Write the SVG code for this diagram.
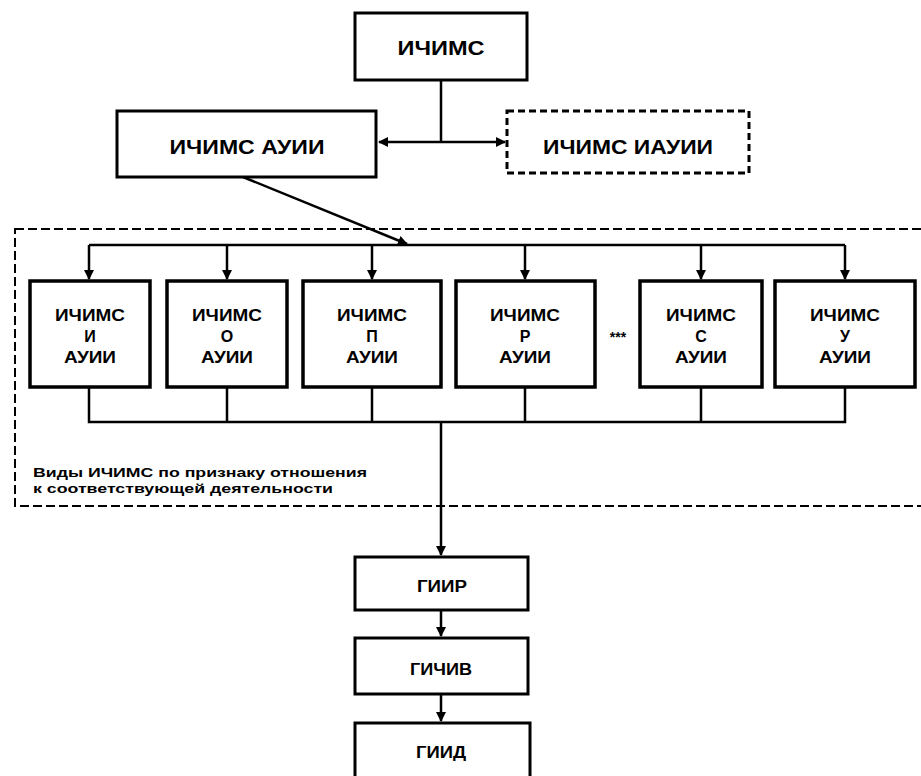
<svg xmlns="http://www.w3.org/2000/svg" width="921" height="776" viewBox="0 0 921 776">
<style>
.box{fill:#fff;stroke:#000;stroke-width:3}
.sbox{fill:#fff;stroke:#000;stroke-width:3.5}
.t{font-family:"Liberation Sans",Arial,sans-serif;font-weight:bold;fill:#000;text-anchor:middle}
.big{font-size:20px}
.mid{font-size:16px}
.lbl{font-family:"Liberation Sans",Arial,sans-serif;font-weight:bold;font-size:13px;fill:#000}
.ln{fill:none;stroke:#000;stroke-width:2.5}
</style>
<defs>
<marker id="ah" viewBox="0 0 10 10" refX="9" refY="5" markerWidth="4" markerHeight="4" orient="auto" markerUnits="strokeWidth">
<path d="M0,0 L10,5 L0,10 z" fill="#000"/>
</marker>
</defs>
<rect x="15" y="229" width="915" height="277" fill="none" stroke="#000" stroke-width="2" stroke-dasharray="9 4"/>
<g id="connectors">
<path class="ln" d="M441,80 V142"/>
<path class="ln" d="M441,142 H379" marker-end="url(#ah)"/>
<path class="ln" d="M441,142 H505" marker-end="url(#ah)"/>
<path class="ln" d="M243,177 L407,244" marker-end="url(#ah)"/>
<path class="ln" d="M89,245 H845"/>
<path class="ln" d="M89,245 V279" marker-end="url(#ah)"/>
<path class="ln" d="M227,245 V279" marker-end="url(#ah)"/>
<path class="ln" d="M372,245 V279" marker-end="url(#ah)"/>
<path class="ln" d="M525,245 V279" marker-end="url(#ah)"/>
<path class="ln" d="M701,245 V279" marker-end="url(#ah)"/>
<path class="ln" d="M845,245 V279" marker-end="url(#ah)"/>
<path class="ln" d="M89,387 V422 H845 V387 M227,387 V422 M372,387 V422 M525,387 V422 M701,387 V422"/>
<path class="ln" d="M441,422 V555" marker-end="url(#ah)"/>
<path class="ln" d="M441,610 V636" marker-end="url(#ah)"/>
<path class="ln" d="M441,694 V721" marker-end="url(#ah)"/>
</g>
<g id="n-ichims"><rect class="box" x="355" y="13" width="172" height="67"/><text class="t big" x="441" y="55" textLength="87" lengthAdjust="spacingAndGlyphs">ИЧИМС</text></g>
<g id="n-auii"><rect class="box" x="117" y="111" width="259" height="66"/><text class="t big" x="247" y="154" textLength="155" lengthAdjust="spacingAndGlyphs">ИЧИМС АУИИ</text></g>
<g id="n-iauii"><rect class="box" x="507" y="111" width="242" height="62" stroke-dasharray="7 4" stroke-width="2.5"/><text class="t big" x="628" y="154" textLength="170" lengthAdjust="spacingAndGlyphs">ИЧИМС ИАУИИ</text></g>
<g id="n-i"><rect class="sbox" x="30" y="281" width="120" height="106"/><text class="t mid" x="90" y="321" textLength="70" lengthAdjust="spacingAndGlyphs">ИЧИМС</text><text class="t mid" x="90" y="342">И</text><text class="t mid" x="90" y="363" textLength="52" lengthAdjust="spacingAndGlyphs">АУИИ</text></g>
<g id="n-o"><rect class="sbox" x="167" y="281" width="120" height="106"/><text class="t mid" x="227" y="321" textLength="70" lengthAdjust="spacingAndGlyphs">ИЧИМС</text><text class="t mid" x="227" y="342">О</text><text class="t mid" x="227" y="363" textLength="52" lengthAdjust="spacingAndGlyphs">АУИИ</text></g>
<g id="n-p"><rect class="sbox" x="303" y="281" width="138" height="106"/><text class="t mid" x="372" y="321" textLength="70" lengthAdjust="spacingAndGlyphs">ИЧИМС</text><text class="t mid" x="372" y="342">П</text><text class="t mid" x="372" y="363" textLength="52" lengthAdjust="spacingAndGlyphs">АУИИ</text></g>
<g id="n-r"><rect class="sbox" x="456" y="281" width="139" height="106"/><text class="t mid" x="525" y="321" textLength="70" lengthAdjust="spacingAndGlyphs">ИЧИМС</text><text class="t mid" x="525" y="342">Р</text><text class="t mid" x="525" y="363" textLength="52" lengthAdjust="spacingAndGlyphs">АУИИ</text></g>
<text class="t" x="618" y="342" font-size="14">***</text>
<g id="n-s"><rect class="sbox" x="640" y="281" width="122" height="106"/><text class="t mid" x="701" y="321" textLength="70" lengthAdjust="spacingAndGlyphs">ИЧИМС</text><text class="t mid" x="701" y="342">С</text><text class="t mid" x="701" y="363" textLength="52" lengthAdjust="spacingAndGlyphs">АУИИ</text></g>
<g id="n-u"><rect class="sbox" x="775" y="281" width="140" height="106"/><text class="t mid" x="845" y="321" textLength="70" lengthAdjust="spacingAndGlyphs">ИЧИМС</text><text class="t mid" x="845" y="342">У</text><text class="t mid" x="845" y="363" textLength="52" lengthAdjust="spacingAndGlyphs">АУИИ</text></g>
<g id="label"><text class="lbl" x="33" y="477" textLength="334" lengthAdjust="spacingAndGlyphs">Виды ИЧИМС по признаку отношения</text><text class="lbl" x="33" y="493" textLength="300" lengthAdjust="spacingAndGlyphs">к соответствующей деятельности</text></g>
<g id="n-giir"><rect class="box" x="355" y="557" width="173" height="53"/><text class="t mid" x="442" y="592" textLength="50" lengthAdjust="spacingAndGlyphs">ГИИР</text></g>
<g id="n-gichiv"><rect class="box" x="355" y="638" width="173" height="56"/><text class="t mid" x="441" y="675" textLength="62" lengthAdjust="spacingAndGlyphs">ГИЧИВ</text></g>
<g id="n-giid"><rect class="box" x="355" y="723" width="175" height="60"/><text class="t mid" x="441" y="758" textLength="50" lengthAdjust="spacingAndGlyphs">ГИИД</text></g>
</svg>
